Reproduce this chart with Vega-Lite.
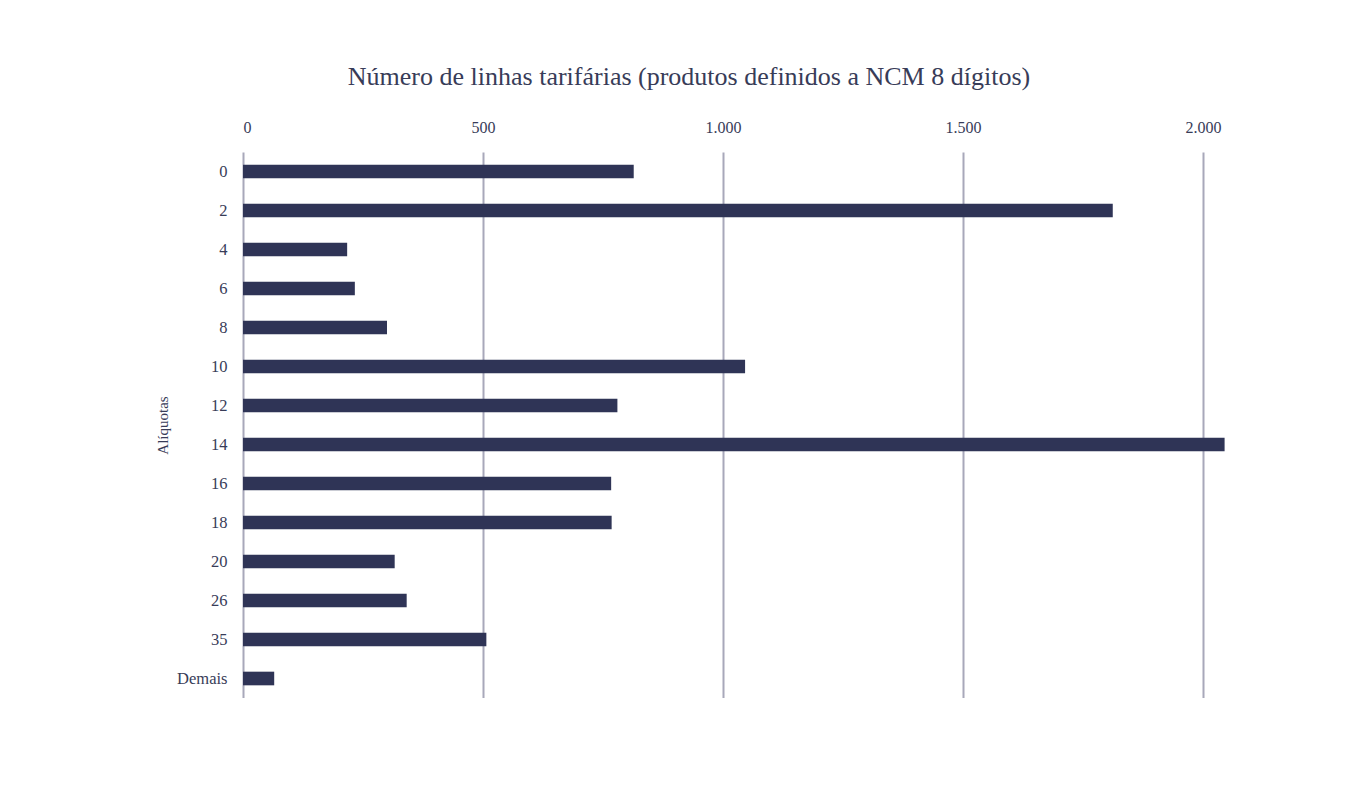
{
  "$schema": "https://vega.github.io/schema/vega-lite/v6.json",
  "autosize": {"type": "none"},
  "padding": {"left": 243, "top": 152, "right": 0, "bottom": 0},
  "width": 1008,
  "height": 546,
  "background": "#ffffff",
  "title": {
    "text": "Número de linhas tarifárias (produtos definidos a NCM 8 dígitos)",
    "font": "Liberation Serif",
    "fontSize": 26,
    "fontWeight": "normal",
    "color": "#383c58",
    "anchor": "middle",
    "dx": -58,
    "offset": 29
  },
  "data": {
    "values": [
      {"aliquota": "0", "linhas": 814},
      {"aliquota": "2", "linhas": 1812},
      {"aliquota": "4", "linhas": 217},
      {"aliquota": "6", "linhas": 233},
      {"aliquota": "8", "linhas": 300},
      {"aliquota": "10", "linhas": 1046},
      {"aliquota": "12", "linhas": 780},
      {"aliquota": "14", "linhas": 2045},
      {"aliquota": "16", "linhas": 767},
      {"aliquota": "18", "linhas": 768},
      {"aliquota": "20", "linhas": 316},
      {"aliquota": "26", "linhas": 341},
      {"aliquota": "35", "linhas": 507},
      {"aliquota": "Demais", "linhas": 65}
    ]
  },
  "mark": {"type": "bar", "color": "#2f3456"},
  "encoding": {
    "y": {
      "field": "aliquota",
      "type": "nominal",
      "sort": null,
      "scale": {"paddingInner": 0.65, "paddingOuter": 0.325},
      "axis": {
        "title": "Alíquotas",
        "titleFont": "Liberation Serif",
        "titleFontSize": 15,
        "titleFontWeight": "normal",
        "titleColor": "#383c58",
        "titlePadding": 6,
        "labelFont": "Liberation Serif",
        "labelFontSize": 16.5,
        "labelColor": "#383c58",
        "labelPadding": 16,
        "ticks": false,
        "domain": false,
        "grid": false
      }
    },
    "x": {
      "field": "linhas",
      "type": "quantitative",
      "scale": {"domain": [0, 2100], "nice": false},
      "axis": {
        "orient": "top",
        "title": null,
        "values": [0, 500, 1000, 1500, 2000],
        "labelExpr": "replace(format(datum.value, ','), ',', '.')",
        "labelFont": "Liberation Serif",
        "labelFontSize": 16,
        "labelColor": "#383c58",
        "labelPadding": 17,
        "ticks": false,
        "domain": false,
        "grid": true,
        "gridColor": "#a8a8ba",
        "gridWidth": 2
      }
    }
  },
  "config": {"view": {"stroke": null}}
}
